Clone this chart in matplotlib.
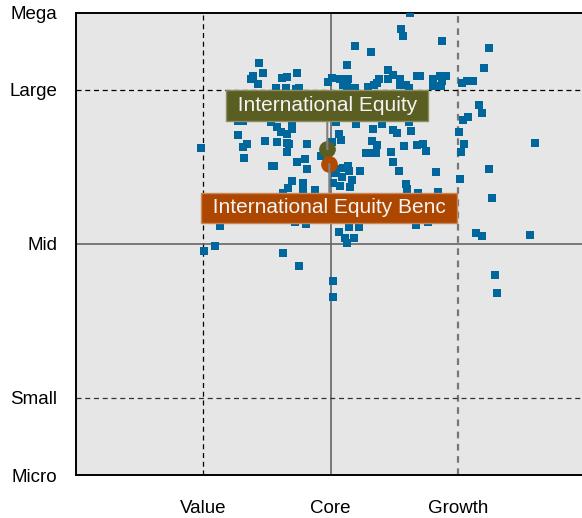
import matplotlib
matplotlib.use("Agg")
from matplotlib import pyplot as plt

plt.rcParams["font.family"] = ["Liberation Sans", "DejaVu Sans"]

# style score (Value=100, Core=200, Growth=300) / size score (Small=100, Mid=300, Large=500)
holding_x = [
    144.0, 139.3, 137.5, 147.1, 143.2, 162.1, 166.0, 173.8, 156.9, 164.7, 172.8, 175.4,
    262.6, 255.5, 256.6, 219.4, 232.0, 213.1, 245.3, 248.8, 245.3, 238.3, 201.3, 198.2,
    207.4, 213.9, 209.5, 212.6, 219.2, 229.6, 234.1, 236.2, 254.5, 254.5, 259.2, 261.8,
    268.1, 287.7, 324.7, 320.7, 270.2, 280.7, 285.9, 290.7, 287.3, 280.7, 286.5, 303.0,
    306.9, 311.6, 316.8, 98.0, 127.5, 131.4, 134.1, 132.2, 148.5, 158.1, 158.1, 160.8,
    166.0, 169.4, 169.4, 166.0, 167.6, 166.0, 153.7, 155.5, 173.8, 180.1, 181.2, 181.7,
    169.4, 166.3, 178.1, 178.1, 127.3, 131.2, 153.2, 162.4, 178.6, 204.2, 220.0, 240.4,
    261.8, 233.1, 249.3, 251.9, 262.9, 206.8, 208.4, 232.3, 236.2, 200.9, 257.9, 267.6,
    227.8, 232.3, 235.7, 247.4, 192.5, 249.3, 204.2, 209.5, 213.9, 214.7, 223.1, 254.0,
    203.5, 208.7, 216.6, 202.1, 207.4, 215.2, 259.2, 260.3, 187.7, 268.9, 319.2, 308.2,
    304.2, 301.1, 360.6, 272.3, 274.9, 305.0, 302.4, 282.8, 324.7, 301.6, 327.0, 284.6,
    113.1, 100.8, 109.2, 162.8, 175.4, 172.0, 180.7, 202.1, 202.1, 206.8, 214.7, 222.5,
    211.3, 218.6, 213.1, 267.1, 276.7, 314.2, 318.7, 356.6, 329.1, 331.0,
]
holding_y = [
    534.7, 518.6, 514.3, 521.7, 507.4, 515.2, 516.9, 521.7, 503.0, 502.2, 501.3, 502.2,
    600.0, 579.2, 570.1, 556.8, 549.4, 532.1, 526.0, 519.5, 514.3, 514.3, 515.6, 510.0,
    514.3, 514.3, 506.5, 504.3, 502.2, 504.3, 506.5, 508.7, 514.3, 506.5, 506.5, 503.0,
    518.2, 563.6, 554.2, 528.2, 518.2, 514.3, 518.6, 518.6, 511.7, 505.6, 505.6, 508.7,
    511.7, 511.7, 480.5, 424.3, 441.6, 426.4, 429.9, 411.3, 433.8, 432.1, 451.6, 445.8,
    442.5, 456.8, 449.0, 431.6, 429.5, 419.9, 401.3, 401.3, 406.1, 410.0, 397.0, 429.5,
    381.8, 372.3, 379.6, 373.6, 459.7, 459.7, 458.1, 365.8, 363.6, 458.8, 455.5, 455.8,
    458.1, 449.0, 448.1, 443.8, 446.8, 442.9, 435.1, 434.2, 428.6, 432.5, 427.3, 428.6,
    417.8, 418.6, 417.8, 419.1, 414.3, 406.1, 397.0, 398.3, 401.3, 395.2, 394.8, 394.8,
    391.8, 386.6, 383.1, 379.6, 375.3, 373.6, 377.9, 371.0, 370.1, 366.6, 469.7, 464.5,
    461.0, 445.1, 430.8, 429.9, 420.8, 429.5, 419.1, 393.1, 397.0, 384.0, 360.1, 367.9,
    323.8, 290.9, 297.4, 287.9, 271.4, 329.0, 325.6, 251.9, 230.8, 315.2, 322.5, 322.5,
    308.2, 307.4, 301.7, 324.7, 328.2, 313.9, 310.8, 311.7, 259.7, 236.0,
]

fund_name = "International Equity"
fund_xy = (197.4, 423.0)
bench_name = "International Equity Benc"
bench_xy = (199.0, 403.9)

x_ticks = [100, 200, 300]
x_labels = ["Value", "Core", "Growth"]
y_ticks = [0, 100, 300, 500, 600]
y_labels = ["Micro", "Small", "Mid", "Large", "Mega"]

fig = plt.figure(figsize=(5.82, 5.18), dpi=100)
ax = fig.add_axes([0.1306, 0.083, 0.8694, 0.892])
ax.set_facecolor("#e6e6e6")
ax.set_xlim(0, 397.5)
ax.set_ylim(0, 600)

# gridlines of the style box
ax.axvline(100, color="black", lw=0.9, ls=(0, (4, 3)), zorder=1)
ax.axvline(200, color="#666666", lw=1.2, zorder=1)
ax.axvline(300, color="#777777", lw=1.6, ls=(0, (3, 2.5)), zorder=1)
ax.axhline(100, color="#333333", lw=0.9, ls=(0, (4, 3)), zorder=1)
ax.axhline(300, color="#666666", lw=1.2, zorder=1)
ax.axhline(500, color="black", lw=0.9, ls=(0, (4, 3)), zorder=1)

ax.scatter(holding_x, holding_y, marker="s", s=32, color="#00679c", linewidths=0, zorder=3)

ax.annotate(" " + fund_name + " ", xy=fund_xy, xytext=(0, 31.5), textcoords="offset points",
            ha="center", va="center", fontsize=15, color="#f4f4f4", zorder=6,
            bbox=dict(boxstyle="square,pad=0.27", fc="#5b5e22", ec="#8d8f62", lw=1),
            arrowprops=dict(arrowstyle="-", color="#808080", lw=1.5, shrinkA=0, shrinkB=0))
ax.annotate(" " + bench_name + " ", xy=bench_xy, xytext=(0, -31.5), textcoords="offset points",
            ha="center", va="center", fontsize=15, color="#f4f4f4", zorder=6,
            bbox=dict(boxstyle="square,pad=0.27", fc="#ad4700", ec="#c9875a", lw=1),
            arrowprops=dict(arrowstyle="-", color="#808080", lw=1.5, shrinkA=0, shrinkB=0))
ax.plot(*fund_xy, "o", ms=11, color="#5b5e22", zorder=5)
ax.plot(*bench_xy, "o", ms=11, color="#b04a00", zorder=5)

ax.set_xticks(x_ticks)
ax.set_xticklabels(x_labels)
ax.set_yticks(y_ticks)
ax.set_yticklabels(y_labels)
ax.tick_params(axis="both", length=0, labelsize=13.5)
ax.tick_params(axis="x", pad=18)
ax.tick_params(axis="y", pad=13.5)

for side in ["left", "top", "bottom"]:
    ax.spines[side].set_linewidth(1.4)
ax.spines["right"].set_visible(False)

fig.savefig("out.png", dpi=100)
